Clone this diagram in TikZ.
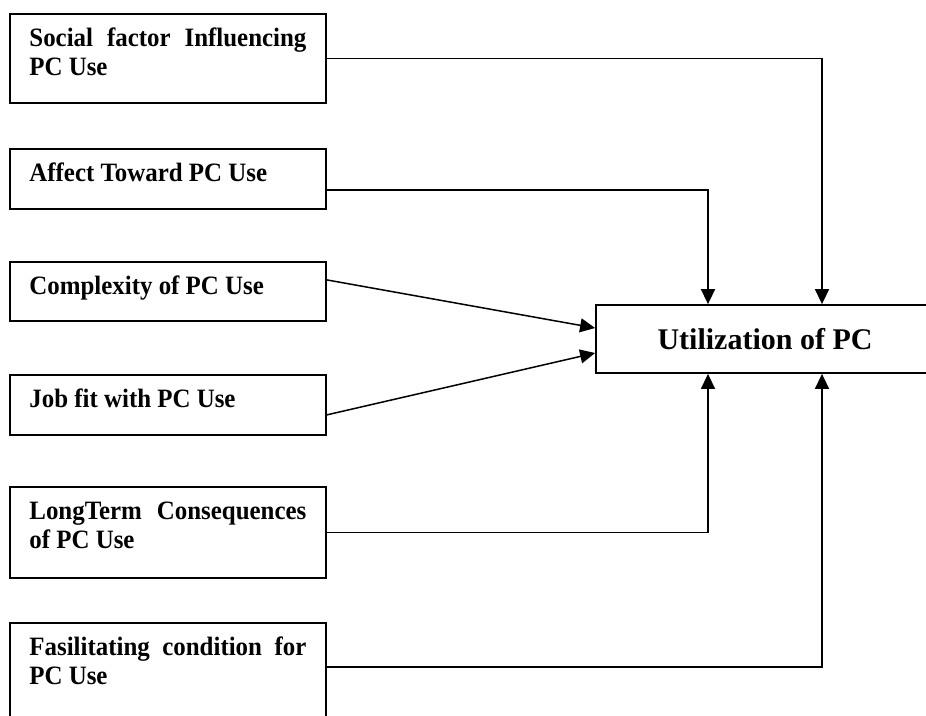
\documentclass[tikz,border=0pt]{standalone}
\usepackage{fontspec}
\setmainfont{Liberation Serif}
\usetikzlibrary{arrows.meta}
\tikzset{
  % Stile per i riquadri dei fattori (a sinistra)
  factor box/.style={
    draw, line width=1.8pt, rectangle, anchor=north west,
    text width=277pt, align=justify,
    inner xsep=19.5pt, inner ysep=8pt, text height=25pt,
    font=\fontsize{26.5}{28.5}\selectfont\bfseries\addfontfeature{FakeStretch=0.94}
  },
  % Stile per il riquadro centrale
  main box/.style={
    draw, line width=1.8pt, rectangle,
    minimum width=338pt, minimum height=68pt,
    font=\fontsize{30}{34}\selectfont\bfseries
  },
  % Stile per le frecce
  link/.style={line width=1.5pt, -{Triangle[length=15pt, width=14pt]}}
}

\begin{document}
\begin{tikzpicture}[x=1pt, y=-1pt]
    \useasboundingbox (0,0) rectangle (926,715);

    % Riquadri dei fattori
    \node[factor box, text depth=48pt] (social) at (9,13) {Social factor Influencing PC Use};
    \node[factor box, text depth=19pt] (affect) at (9,148) {Affect Toward PC Use};
    \node[factor box, text depth=18pt] (complex) at (9,261) {Complexity of PC Use};
    \node[factor box, text depth=19pt] (jobfit) at (9,374) {Job fit with PC Use};
    \node[factor box, text depth=50pt] (longterm) at (9,486) {LongTerm Consequences of PC Use};
    \node[factor box, text depth=77pt] (facil) at (9,622) {Fasilitating condition for PC Use};

    % Riquadro centrale
    \node[main box] (util) at (765,339) {Utilization of PC};

    % Frecce dall'alto
    \draw[link] (social.east) -| ([xshift=57pt]util.north);
    \draw[link] ([yshift=-11pt]affect.east) -| ([xshift=-57pt]util.north);

    % Frecce oblique
    \draw[link] ([yshift=11.5pt]complex.east) -- ([yshift=11pt]util.west);
    \draw[link] ([yshift=-10pt]jobfit.east) -- ([yshift=-14pt]util.west);

    % Frecce dal basso
    \draw[link] (longterm.east) -| ([xshift=-57pt]util.south);
    \draw[link] ([yshift=15pt]facil.east) -| ([xshift=57pt]util.south);
\end{tikzpicture}
\end{document}
